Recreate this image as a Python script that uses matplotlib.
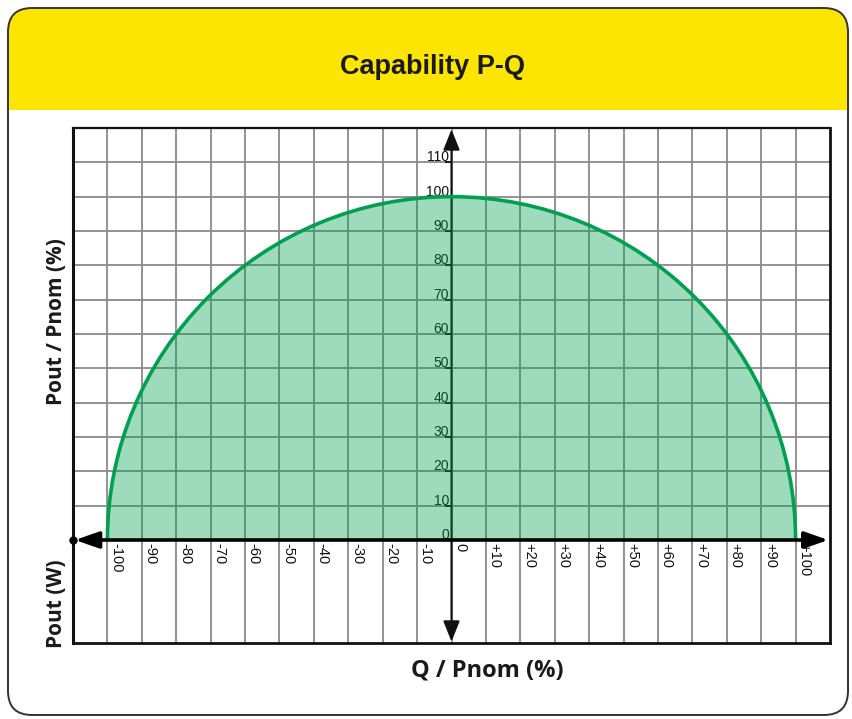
import matplotlib
matplotlib.use("Agg")
import matplotlib.pyplot as plt
from matplotlib.patches import FancyBboxPatch, Rectangle, Wedge, Arc

# ---- data ----
title = "Capability P-Q"
q_ticks = [-100, -90, -80, -70, -60, -50, -40, -30, -20, -10, 0,
           10, 20, 30, 40, 50, 60, 70, 80, 90, 100]
q_tick_labels = ["-100", "-90", "-80", "-70", "-60", "-50", "-40", "-30", "-20", "-10", "0",
                 "+10", "+20", "+30", "+40", "+50", "+60", "+70", "+80", "+90", "+100"]
p_ticks = [0, 10, 20, 30, 40, 50, 60, 70, 80, 90, 100, 110]
p_tick_labels = ["0", "10", "20", "30", "40", "50", "60", "70", "80", "90", "100", "110"]
q_grid = [-100, -90, -80, -70, -60, -50, -40, -30, -20, -10, 0,
          10, 20, 30, 40, 50, 60, 70, 80, 90, 100]
p_grid = [10, 20, 30, 40, 50, 60, 70, 80, 90, 100, 110]
q_limits = (-110, 110)
p_limits = (-30, 120)
capability_center = (0, 0)
capability_radius = 100  # semicircle P^2 + Q^2 = 100^2 (%)

W, H = 852, 719
fig = plt.figure(figsize=(W / 100, H / 100), dpi=100)

# ---- background card ----
bg = fig.add_axes([0, 0, 1, 1], zorder=0)
bg.set_xlim(0, W)
bg.set_ylim(H, 0)
bg.axis("off")
outer = FancyBboxPatch((8, 8), 840, 707, boxstyle="round,pad=0,rounding_size=24",
                       fc="white", ec="none")
bg.add_patch(outer)
yellow = Rectangle((0, 0), W, 110, fc="#FCE600", ec="none")
bg.add_patch(yellow)
yellow.set_clip_path(outer)
border = FancyBboxPatch((8, 8), 840, 707, boxstyle="round,pad=0,rounding_size=24",
                        fc="none", ec="#333333", lw=1.4)
bg.add_patch(border)

bg.text(432, 67, title, ha="center", va="center", fontsize=19.5, fontweight="bold",
        family=["Liberation Sans"], color="#1a1a1a")
bg.text(57, 322, "Pout / Pnom (%)", rotation=90, ha="center", va="center",
        fontsize=15, fontweight="bold", family=["Open Sans"], color="#1a1a1a")
bg.text(57, 604, "Pout (W)", rotation=90, ha="center", va="center",
        fontsize=15, fontweight="bold", family=["Open Sans"], color="#1a1a1a")
bg.text(487, 670, "Q / Pnom (%)", ha="center", va="center",
        fontsize=17, fontweight="bold", family=["Open Sans"], color="#1a1a1a")

# ---- chart ----
ax = fig.add_axes([73 / W, 76 / H, 757 / W, 515 / H], zorder=1)
ax.set_xlim(*q_limits)
ax.set_ylim(*p_limits)
ax.set_xticks([])
ax.set_yticks([])
for side, lw in (("left", 2.2), ("bottom", 2.0), ("right", 2.0), ("top", 1.6)):
    ax.spines[side].set_linewidth(lw)
    ax.spines[side].set_color("#111111")

ax.vlines(q_grid, p_limits[0], p_limits[1], colors="#8a8a8a", lw=1.3, zorder=1)
ax.hlines(p_grid, q_limits[0], q_limits[1], colors="#8a8a8a", lw=1.3, zorder=1)

# y tick marks and labels
ax.hlines(p_ticks, -2.0, 0, colors="#111111", lw=1.3, zorder=1.5)
for p, lab in zip(p_ticks, p_tick_labels):
    ax.text(-0.7, p + 0.3, lab, ha="right", va="baseline", fontsize=10,
            family=["Liberation Sans"], color="#111111", zorder=1.5)
# x tick labels
for q, lab in zip(q_ticks, q_tick_labels):
    ax.text(q + 0.5, -1.0, lab, ha="left", va="top", rotation=-90, fontsize=10.5,
            family=["Liberation Sans"], color="#111111", zorder=1.5)

# y axis arrow (under the fill)
ax.annotate("", xy=(0, p_limits[1] - 0.4), xytext=(0, p_limits[0] + 0.4),
            arrowprops=dict(arrowstyle="<|-|>,head_length=0.7,head_width=0.28",
                            lw=1.5, color="#111111", shrinkA=0, shrinkB=0,
                            mutation_scale=18), zorder=2)

# capability area
ax.add_patch(Wedge(capability_center, capability_radius, 0, 180,
                   fc="#00A050", alpha=0.38, ec="none", zorder=3))
ax.add_patch(Arc(capability_center, 2 * capability_radius, 2 * capability_radius,
                 theta1=0, theta2=180, color="#00A050", lw=2.6, zorder=4))

# x axis arrow (over the fill)
ax.annotate("", xy=(q_limits[1] - 0.5, 0), xytext=(q_limits[0] + 0.6, 0),
            arrowprops=dict(arrowstyle="<|-|>,head_length=0.8,head_width=0.28",
                            lw=2.6, color="black", shrinkA=0, shrinkB=0,
                            mutation_scale=18), zorder=5)
ax.plot([q_limits[0]], [0], "o", ms=5, color="black", clip_on=False, zorder=6)

fig.savefig("out.png", dpi=100)
